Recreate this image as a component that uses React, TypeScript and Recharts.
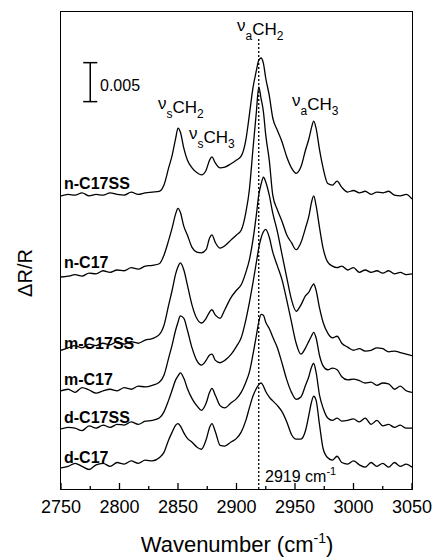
import { LineChart, Line, XAxis, YAxis, ReferenceLine, Customized } from 'recharts'

// wavenumber grid (cm-1), denser around the bands
const wavenumbers = [
  2750, 2756, 2762, 2768, 2774, 2780, 2786, 2792, 2798, 2804, 2810, 2816, 2822, 2828,
  2834, 2838, 2842, 2845, 2848, 2850, 2852, 2855, 2858, 2862, 2866, 2870, 2874, 2877, 2879, 2882,
  2886, 2890, 2895, 2900, 2904, 2908, 2911, 2914, 2917, 2919, 2921, 2923, 2925, 2928, 2931, 2935,
  2939, 2943, 2947, 2951, 2955, 2959, 2962, 2964, 2966, 2968, 2971, 2974, 2978, 2982,
  2986, 2990, 2995, 3000, 3005, 3010, 3015, 3020, 3025, 3030, 3035, 3040, 3045, 3050,
]

// ΔR/R x 1e4, each spectrum relative to its own baseline
const nC17SS = [
  -1, 1, 0, 3, -1, 1, 0, 3, 1, 0, 4, 1, 3, 4,
  5, 13, 35, 51, 73, 86, 81, 60, 45, 35, 29, 26, 32, 45, 49, 41,
  35, 36, 40, 45, 50, 71, 103, 137, 160, 173, 176, 169, 150, 128, 99, 83,
  68, 49, 35, 28, 36, 58, 73, 86, 95, 86, 58, 35, 15, 13,
  18, 10, 4, 6, 3, 5, 1, 4, 3, 5, 0, -1, 1, -5,
]
const nC17 = [
  0, 1, 3, 1, 5, 4, 8, 6, 9, 8, 12, 10, 14, 15,
  17, 28, 47, 63, 81, 88, 83, 65, 54, 38, 32, 31, 35, 50, 54, 44,
  37, 40, 47, 54, 60, 83, 112, 163, 212, 244, 229, 212, 182, 150, 105, 86,
  71, 54, 44, 35, 44, 63, 79, 95, 104, 92, 63, 37, 19, 14,
  12, 14, 9, 12, 6, 9, 6, 8, 5, 8, 4, 6, 3, 4,
]
const mC17SS = [
  -3, 0, 3, 0, 5, 3, 6, 4, 8, 5, 8, 6, 10, 12,
  17, 29, 55, 74, 95, 104, 109, 100, 81, 55, 38, 32, 38, 46, 49, 42,
  38, 49, 64, 74, 81, 97, 113, 138, 171, 196, 210, 219, 213, 196, 173, 149,
  119, 90, 62, 47, 55, 67, 72, 78, 82, 74, 51, 33, 19, 13,
  15, 6, 1, -3, -1, -4, -3, 0, -1, -5, -4, -6, -8, -10,
]
const mC17 = [
  -1, 1, -3, 3, 0, -4, -1, 1, -1, 3, 1, 5, 4, 6,
  10, 19, 41, 58, 77, 87, 95, 92, 77, 54, 38, 32, 38, 45, 46, 38,
  35, 38, 45, 56, 67, 90, 112, 137, 164, 182, 195, 203, 206, 196, 177, 159,
  141, 115, 87, 60, 46, 54, 63, 69, 74, 67, 44, 31, 26, 28,
  26, 17, 13, 14, 12, 9, 10, 6, 9, 8, 1, 5, -1, -3,
]
const dC17SS = [
  -1, 1, 0, -3, 3, 0, 4, 1, 5, 4, 8, 5, 9, 10,
  13, 21, 36, 49, 62, 67, 71, 64, 51, 38, 29, 23, 32, 46, 51, 42,
  29, 26, 32, 38, 46, 59, 72, 94, 119, 136, 146, 145, 136, 128, 117, 103,
  83, 62, 46, 37, 40, 55, 67, 78, 83, 72, 42, 26, 13, 10,
  13, 9, 10, 12, 8, 13, 5, 10, 3, 5, 1, 4, 0, 0,
]
const dC17 = [
  -1, 1, 5, 1, -3, 3, 5, 1, 6, 4, 8, 5, 9, 8,
  12, 19, 35, 45, 54, 56, 53, 44, 37, 32, 26, 23, 35, 51, 56, 45,
  28, 27, 32, 37, 45, 60, 76, 91, 101, 106, 108, 104, 97, 90, 85, 79,
  71, 58, 42, 36, 36, 47, 68, 83, 91, 86, 54, 24, 12, 9,
  14, 6, 4, 8, 3, 0, 6, 1, 5, 0, 6, 1, 4, 0,
]

const traceNames = ['n-C17SS', 'n-C17', 'm-C17SS', 'm-C17', 'd-C17SS', 'd-C17']
const traceValues = [nC17SS, nC17, mC17SS, mC17, dC17SS, dC17]
const traceOffsets = [377, 272, 181, 127, 78, 28]

const xTicks = [2750, 2775, 2800, 2825, 2850, 2875, 2900, 2925, 2950, 2975, 3000, 3025, 3050]
const markerLine = 2919

const data = wavenumbers.map((w, i) => {
  const row: Record<string, number> = { w }
  traceNames.forEach((name, k) => {
    row[name] = traceValues[k][i] + traceOffsets[k]
  })
  return row
})

const FONT = '"Liberation Sans", Arial, Helvetica, sans-serif'

function XTick(props: any) {
  const { x, y, payload } = props
  const major = payload.value % 50 === 0
  return (
    <g>
      <line x1={x} y1={y} x2={x} y2={y - (major ? 6 : 3)} stroke="#000" strokeWidth={1.3} />
      {major && (
        <text x={x} y={y + 24} textAnchor="middle" fontSize={18} fontFamily={FONT} fill="#000">
          {payload.value}
        </text>
      )}
    </g>
  )
}

function PeakLabel({ x, y, sub, num }: { x: number; y: number; sub: string; num: string }) {
  return (
    <text x={x} y={y} fontSize={17} fontFamily={FONT} fill="#000">
      <tspan dy={-4}>ν</tspan>
      <tspan fontSize={12} dy={9}>{sub}</tspan>
      <tspan dy={-5}>CH</tspan>
      <tspan fontSize={12} dy={5}>{num}</tspan>
    </text>
  )
}

function Annotations() {
  const labelY = [189, 268, 349, 385, 423, 463]
  return (
    <g>
      {traceNames.map((name, k) => (
        <text key={name} x={64} y={labelY[k]} fontSize={16} fontWeight="bold" fontFamily={FONT} fill="#000">
          {name}
        </text>
      ))}
      <PeakLabel x={158} y={113} sub="s" num="2" />
      <PeakLabel x={189} y={143} sub="s" num="3" />
      <PeakLabel x={237} y={35} sub="a" num="2" />
      <PeakLabel x={292} y={110} sub="a" num="3" />
      <text x={100} y={91} fontSize={16} fontFamily={FONT} fill="#000">0.005</text>
      <text x={265} y={482} fontSize={16} fontFamily={FONT} fill="#000">
        2919 cm<tspan fontSize={11} dy={-7}>-1</tspan>
      </text>
      <text x={237} y={552} textAnchor="middle" fontSize={22} fontFamily={FONT} fill="#000">
        Wavenumber (cm<tspan fontSize={14} dy={-9}>-1</tspan>
        <tspan dy={9}>)</tspan>
      </text>
      <text
        x={27}
        y={273}
        textAnchor="middle"
        fontSize={20}
        fontFamily={FONT}
        fill="#000"
        transform="rotate(-90 27 273)"
        dominantBaseline="middle"
      >
        ΔR/R
      </text>
    </g>
  )
}

export default function App() {
  return (
    <div style={{ position: 'absolute', left: 0, top: 0, width: 433, height: 559, background: '#fff' }}>
      <LineChart width={433} height={559} data={data} margin={{ top: 12, right: 21, bottom: 40, left: 61 }}>
        <XAxis
          dataKey="w"
          type="number"
          domain={[2750, 3050]}
          ticks={xTicks}
          interval={0}
          height={30}
          tickSize={0}
          tickMargin={0}
          tickLine={false}
          tick={<XTick />}
          axisLine={false}
          allowDataOverflow
        />
        <YAxis hide type="number" domain={[0, 612]} allowDataOverflow />
        <ReferenceLine
          segment={[{ x: markerLine, y: 0 }, { x: markerLine, y: 578 }]}
          stroke="#000"
          strokeWidth={1.3}
          strokeDasharray="2 2"
        />
        {/* 0.005 scale bar */}
        <ReferenceLine segment={[{ x: 2775, y: 497 }, { x: 2775, y: 547 }]} stroke="#000" strokeWidth={1.5} />
        <ReferenceLine segment={[{ x: 2769, y: 497 }, { x: 2781, y: 497 }]} stroke="#000" strokeWidth={1.5} />
        <ReferenceLine segment={[{ x: 2769, y: 547 }, { x: 2781, y: 547 }]} stroke="#000" strokeWidth={1.5} />
        {traceNames.map((name) => (
          <Line
            key={name}
            dataKey={name}
            type="monotone"
            stroke="#000"
            strokeWidth={1.3}
            dot={false}
            activeDot={false}
            isAnimationActive={false}
          />
        ))}
        <Customized component={Annotations} />
      </LineChart>
      {/* plot frame */}
      <div
        style={{
          position: 'absolute',
          left: 60,
          top: 11,
          width: 353,
          height: 479,
          border: '1.5px solid #000',
          boxSizing: 'border-box',
          pointerEvents: 'none',
        }}
      />
    </div>
  )
}
